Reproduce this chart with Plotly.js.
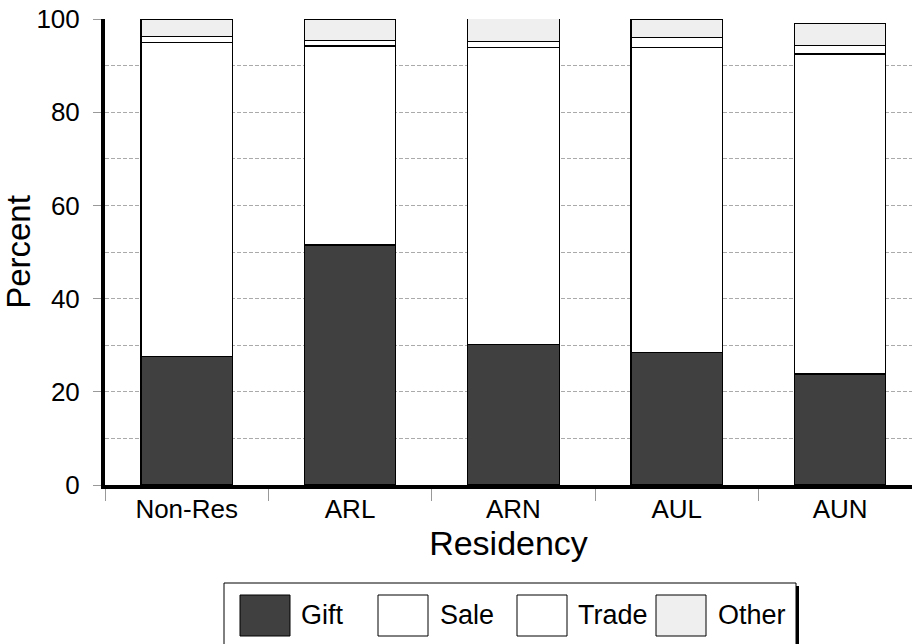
<!DOCTYPE html>
<html><head><meta charset="utf-8">
<script src="https://cdn.plot.ly/plotly-3.0.1.min.js"></script>
<style>html,body{margin:0;padding:0;background:#fff}#chart{width:912px;height:644px}</style>
</head><body><div id="chart"></div>
<script>
var categories = ["Non-Res", "ARL", "ARN", "AUL", "AUN"];
var seriesNames = ["Gift", "Sale", "Trade", "Other"];
var gift  = [27.5, 51.5, 30.1, 28.5, 23.8];
var sale  = [67.5, 42.7, 63.8, 65.4, 68.7];
var trade = [1.3, 1.2, 1.2, 2.2, 1.9];
var other = [3.7, 4.6, 5.0, 3.9, 4.7];
var yTicks = [0, 20, 40, 60, 80, 100];

var values = [gift, sale, trade, other];
var colors = ["#404040", "#ffffff", "#ffffff", "#efefef"];

var W = 912, H = 644, ML = 105, MR = 0, MT = 19, MB = 159;
var PW = W - ML - MR, PH = H - MT - MB;
function px(x){ return (x - ML) / PW; }
function py(y){ return (H - MB - y) / PH; }
var FONT = "Liberation Sans, Arial, sans-serif";

var traces = values.map(function(v, i){
  return {type:"bar", name:seriesNames[i], x:categories, y:v,
    marker:{color:colors[i], line:{color:"#000", width:1.2}}, width:0.56,
    showlegend:false, hoverinfo:"y+name"};
});

var shapes = [], annotations = [];
// legend box
shapes.push({type:"rect", xref:"paper", yref:"paper", x0:px(224), x1:px(796), y0:py(660), y1:py(583),
  line:{color:"#000", width:1}, fillcolor:"#fff"});
shapes.push({type:"line", xref:"paper", yref:"paper", x0:px(797.5), x1:px(797.5), y0:py(586), y1:py(660),
  line:{color:"#000", width:3}});
var swX = [240, 378, 517, 656];
var txtX = [299, 438, 576, 716];
seriesNames.forEach(function(n, i){
  shapes.push({type:"rect", xref:"paper", yref:"paper", x0:px(swX[i]), x1:px(swX[i]+50), y0:py(636), y1:py(595),
    line:{color:"#000", width:1}, fillcolor:colors[i]});
  annotations.push({xref:"paper", yref:"paper", x:px(txtX[i]), y:py(615), xanchor:"left", yanchor:"middle",
    text:n, showarrow:false, font:{size:27, color:"#000", family:FONT}});
});

var layout = {
  width:W, height:H, margin:{l:ML, r:MR, t:MT, b:MB},
  paper_bgcolor:"#fff", plot_bgcolor:"#fff",
  barmode:"stack", showlegend:false,
  font:{family:FONT, color:"#000"},
  xaxis:{type:"category", range:[-0.5, 4.44], showline:true, linecolor:"#000", linewidth:4,
    ticks:"outside", tickson:"boundaries", ticklen:12, tickcolor:"#999", tickwidth:1,
    tickfont:{size:26}, showgrid:false, zeroline:false, ticklabelstandoff:-2,
    title:{text:"Residency", font:{size:34}, standoff:2}},
  yaxis:{range:[0, 100], tickvals:yTicks, ticktext:yTicks.map(String), showline:true, linecolor:"#000", linewidth:4,
    ticks:"outside", ticklen:8, tickcolor:"#999", tickwidth:1, tickfont:{size:26}, ticklabelstandoff:8,
    showgrid:true, gridcolor:"#aaa", griddash:"4px,2px", gridwidth:1, zeroline:false,
    minor:{dtick:10, showgrid:true, gridcolor:"#aaa", griddash:"4px,2px", gridwidth:1},
    title:{text:"Percent", font:{size:33}, standoff:2}},
  shapes:shapes, annotations:annotations
};
Plotly.newPlot("chart", traces, layout, {displayModeBar:false, staticPlot:true});
</script></body></html>
